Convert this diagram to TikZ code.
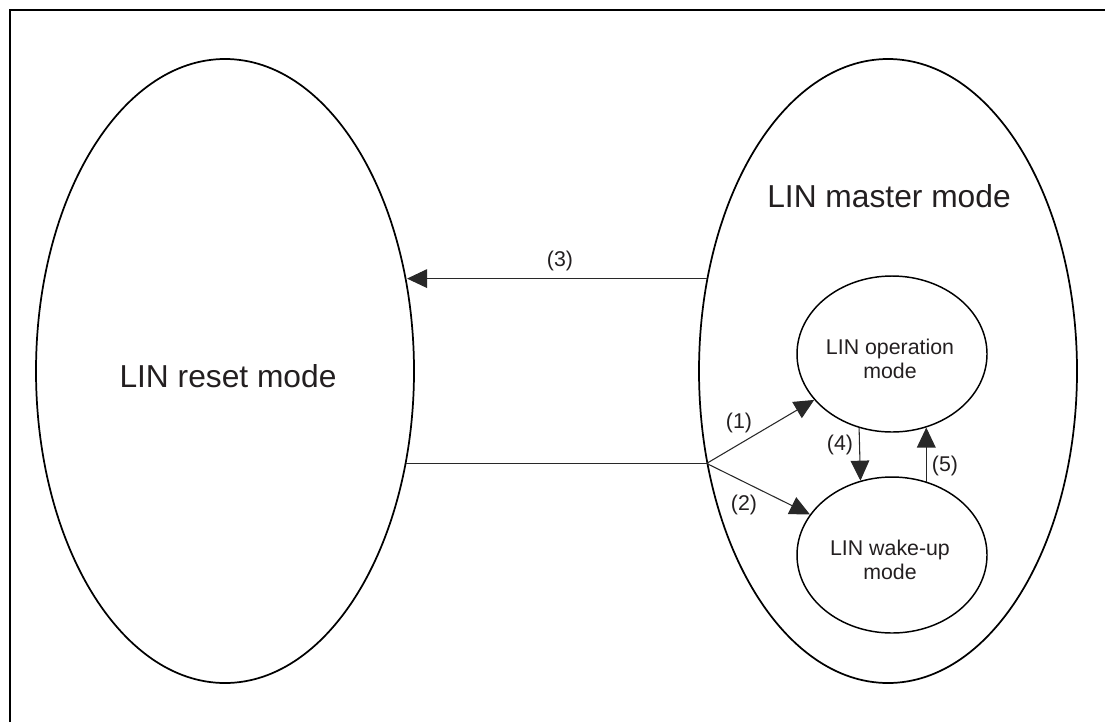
\documentclass[tikz,border=0pt]{standalone}
\usepackage{fontspec}
\setmainfont{Liberation Sans}
\usetikzlibrary{shapes.geometric,arrows.meta}
\definecolor{TxtGray}{RGB}{35,31,32}
\definecolor{LnGray} {RGB}{40,40,40}
\tikzset{
  nd_big/.style={ellipse,draw=black,line width=1.3pt,minimum width=283.5pt,minimum height=468pt,inner sep=0pt},
  nd_mode/.style={ellipse,draw=black,line width=1.1pt,minimum width=142.5pt,minimum height=117pt,inner sep=0pt},
  txt_big/.style={font=\fontsize{23.8}{28}\selectfont,text=TxtGray,inner sep=0pt},
  txt_mode/.style={font=\fontsize{16}{18.5}\selectfont,text=TxtGray,align=center,inner sep=0pt},
  lbl/.style={font=\fontsize{16}{18}\selectfont,text=TxtGray,inner sep=0pt},
  ln/.style={line width=0.8pt,draw=LnGray},
  arr/.style={ln,-{Triangle[length=15pt,width=14pt]}},
}
\begin{document}
\begin{tikzpicture}[x=0.75pt,y=-0.75pt]
\useasboundingbox (0,0) rectangle (1105,722);
\def\cL{225}\def\cR{888}\def\cM{892}
% frame
\draw[line width=1.3pt] (10,722) -- (10,10) -- (1105,10);
% outer modes
\node[nd_big] at (\cL,371)(reset){};
\node[nd_big] at (\cR,371)(master){};
\node[txt_big] at (228,376)(t_reset){LIN reset mode};
\node[txt_big] at (889,196)(t_master){LIN master mode};
% inner modes
\node[nd_mode] at (\cM,354)(oper){};
\node[nd_mode] at (\cM,555)(wake){};
\node[txt_mode] at (890,359)(t_oper){LIN operation\\mode};
\node[txt_mode] at (890,560)(t_wake){LIN wake-up\\mode};
% arrows
\coordinate (fork) at (master.207);
\draw[ln](reset.333 |- fork)--(fork);
\draw[arr](master.153.6)--(reset.26.4 |- master.153.6);
\draw[arr](fork)--(oper);
\draw[arr](fork)--(wake);
\draw[arr](oper.246.4)--(wake.113.6);
\draw[arr](wake.65)--(oper.295);
% labels
\node[lbl] at (560,261)(l3){(3)};
\node[lbl] at (739,423)(l1){(1)};
\node[lbl] at (744,505)(l2){(2)};
\node[lbl] at (840,445)(l4){(4)};
\node[lbl] at (945,466)(l5){(5)};
\end{tikzpicture}
\end{document}
